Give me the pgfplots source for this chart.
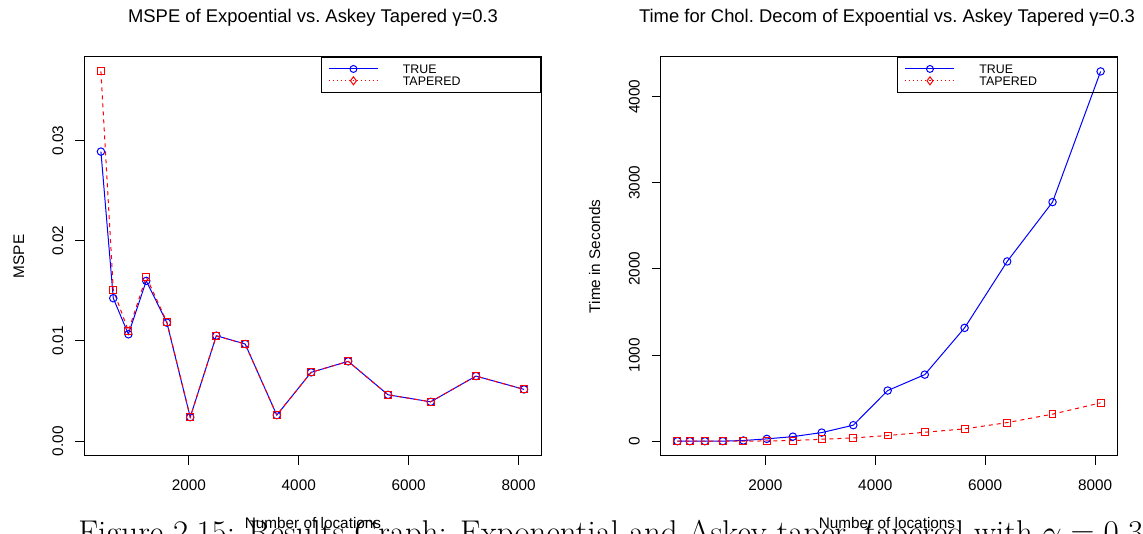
\documentclass[border=0pt]{standalone}
\usepackage{fontspec}
\usepackage{pgfplots}
\pgfplotsset{compat=1.18}
\newfontfamily\hv{Liberation Sans}

\pgfplotstableread{
n     true     tapered
400   0.0289   0.0369
625   0.01427  0.0151
900   0.01067  0.0110
1225  0.0160   0.0164
1600  0.01183  0.0119
2025  0.0024   0.0024
2500  0.01053  0.0105
3025  0.0097   0.0097
3600  0.0026   0.0026
4225  0.00687  0.00687
4900  0.00797  0.00797
5625  0.00463  0.00463
6400  0.00393  0.00393
7225  0.0065   0.0065
8100  0.00517  0.00517
}\mspe

\pgfplotstableread{
n     true   tapered
400   0      0
625   0      0
900   0      0
1225  1      0
1600  8      1
2025  27     3
2500  53     7
3025  100    23
3600  186    38
4225  588    66
4900  773    104
5625  1316   143
6400  2087   216
7225  2776   314
8100  4293   445
}\chol

\pgfplotsset{
  rstyle/.style={
    scale only axis, width=342.75pt, height=299.5pt, anchor=south west,
    axis line style={line width=0.75pt},
    tick align=outside, xtick pos=left, ytick pos=left,
    major tick length=6.75pt, tick style={black, line width=0.75pt},
    scaled x ticks=false, scaled y ticks=false,
    xmin=92, xmax=8408,
    xtick={2000,4000,6000,8000}, xticklabels={2000,4000,6000,8000},
    ticklabel style={font=\hv\fontsize{11.5}{13}\selectfont},
    xticklabel style={anchor=north, inner sep=0pt, yshift=-11pt},
    yticklabel style={rotate=90, anchor=south, inner sep=0pt, yshift=8.6pt},
    legend style={at={(1,1)}, anchor=north east, draw=black, line width=0.75pt,
      fill=none, inner xsep=5.25pt, inner ysep=5.5pt, row sep=2.2pt,
      font=\hv\fontsize{9.3}{9}\selectfont,
      nodes={inner sep=0pt, text height=6.7pt, text depth=0pt, anchor=west},
      /tikz/every odd column/.append style={column sep=18.3pt}},
    legend cell align=left,
    legend image code/.code={\draw[mark repeat=2, mark phase=2, #1]
      plot coordinates {(0pt,0pt) (18.375pt,0pt) (36.75pt,0pt)};},
  },
  trueline/.style={blue, line width=0.75pt, mark=o, mark size=2.8pt},
  tapline/.style={red, line width=0.75pt, dash pattern=on 3pt off 3pt,
    mark=square, mark size=2.6pt, mark options={solid}},
}

\begin{document}
\begin{tikzpicture}
\useasboundingbox (0,0) rectangle (857.25pt,400.5pt);
\clip (0,0) rectangle (857.25pt,400.5pt);

% caption of the source document (cut off at the bottom)
\node[anchor=base west, inner sep=0pt, font=\fontsize{24.7}{29}\selectfont]
  at (58.5pt,-7.5pt) {Figure 2.15: Results Graph: Exponential and Askey taper, tapered with $\gamma = 0.3$};

\begin{axis}[rstyle, at={(63pt,58.5pt)},
  ymin=-0.001476, ymax=0.038376,
  ytick={0,0.01,0.02,0.03}, yticklabels={0.00,0.01,0.02,0.03}]
\addlegendimage{blue, line width=0.75pt, mark=o, mark size=2.6pt}
\addlegendentry{\makebox[98pt][l]{TRUE}}
\addlegendimage{red, line width=0.75pt, dash pattern=on 0.75pt off 2.25pt, mark=diamond, mark size=3pt, mark options={solid}}
\addlegendentry{\makebox[98pt][l]{TAPERED}}
\addplot[trueline, forget plot] table[x=n, y=true] {\mspe};
\addplot[tapline, forget plot] table[x=n, y=tapered] {\mspe};
\end{axis}

\begin{axis}[rstyle, at={(495.4pt,58.5pt)},
  ymin=-171.7, ymax=4464.7,
  ytick={0,1000,2000,3000,4000}, yticklabels={0,1000,2000,3000,4000}]
\addlegendimage{blue, line width=0.75pt, mark=o, mark size=2.6pt}
\addlegendentry{\makebox[98pt][l]{TRUE}}
\addlegendimage{red, line width=0.75pt, dash pattern=on 0.75pt off 2.25pt, mark=diamond, mark size=3pt, mark options={solid}}
\addlegendentry{\makebox[98pt][l]{TAPERED}}
\addplot[trueline, forget plot] table[x=n, y=true] {\chol};
\addplot[tapline, forget plot] table[x=n, y=tapered] {\chol};
\end{axis}

\begin{scope}[every node/.style={inner sep=0pt}]
\node[anchor=base, font=\hv\fontsize{13.8}{16}\selectfont] at (234.75pt,383.5pt)
  {MSPE of Expoential vs.\ Askey Tapered γ=0.3};
\node[anchor=base, font=\hv\fontsize{13.8}{16}\selectfont] at (665.25pt,383.5pt)
  {Time for Chol.\ Decom of Expoential vs.\ Askey Tapered γ=0.3};
\node[anchor=base, font=\hv\fontsize{11.5}{13}\selectfont] at (234.75pt,3.75pt)
  {Number of locations};
\node[anchor=base, font=\hv\fontsize{11.5}{13}\selectfont] at (665.25pt,3.75pt)
  {Number of locations};
\node[anchor=base, rotate=90, font=\hv\fontsize{11.5}{13}\selectfont] at (18pt,208.2pt)
  {MSPE};
\node[anchor=base, rotate=90, font=\hv\fontsize{11.5}{13}\selectfont] at (450pt,208.2pt)
  {Time in Seconds};
\end{scope}
\end{tikzpicture}
\end{document}
